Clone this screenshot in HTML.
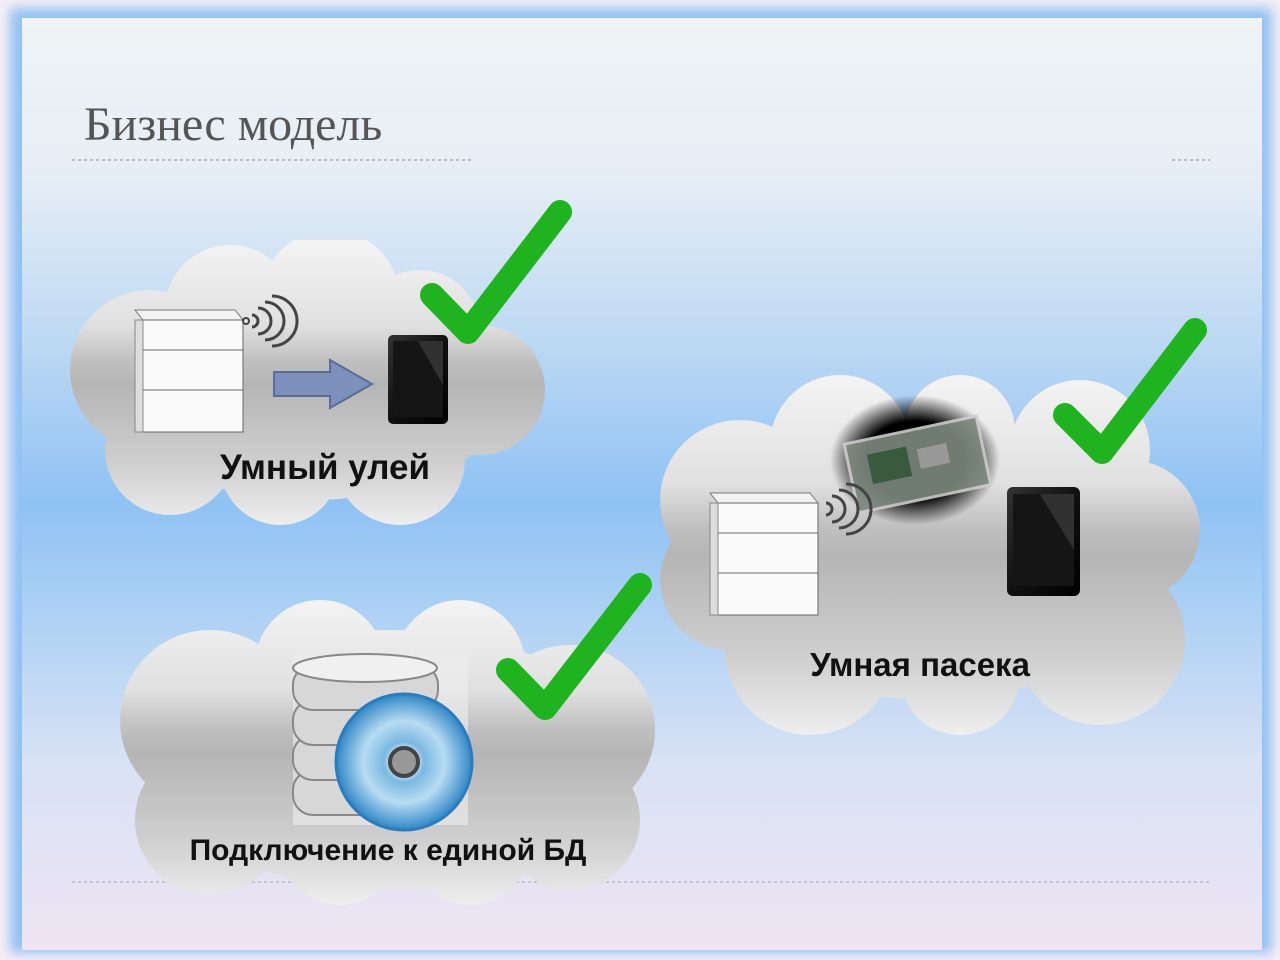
<!DOCTYPE html>
<html><head><meta charset="utf-8"><style>
html,body{margin:0;padding:0;width:1280px;height:960px;overflow:hidden;background:#f7eef6}
</style></head><body>
<svg width="1280" height="960" viewBox="0 0 1280 960" xmlns="http://www.w3.org/2000/svg">
<defs>
<linearGradient id="bg" x1="0" y1="0" x2="0" y2="1">
<stop offset="0" stop-color="#eef3f5"/><stop offset="0.17" stop-color="#e6eef5"/>
<stop offset="0.35" stop-color="#bcd8f3"/><stop offset="0.52" stop-color="#8fc2f4"/>
<stop offset="0.62" stop-color="#a8cff4"/><stop offset="0.8" stop-color="#d8e2f4"/>
<stop offset="1" stop-color="#eee4f3"/></linearGradient>
<linearGradient id="cl" x1="0" y1="0" x2="0" y2="1">
<stop offset="0" stop-color="#f4f4f4"/><stop offset="0.3" stop-color="#e0e0e0"/>
<stop offset="0.42" stop-color="#c0c0c0"/><stop offset="0.5" stop-color="#b5b5b5"/><stop offset="0.78" stop-color="#cfcfcf"/>
<stop offset="1" stop-color="#efefef"/></linearGradient>
<linearGradient id="tab" x1="0" y1="0" x2="1" y2="1">
<stop offset="0" stop-color="#333"/><stop offset="0.5" stop-color="#111"/><stop offset="1" stop-color="#000"/></linearGradient>
<radialGradient id="cd" cx="0.5" cy="0.5" r="0.5">
<stop offset="0.15" stop-color="#eef"/><stop offset="0.3" stop-color="#7ab8e0"/><stop offset="0.6" stop-color="#b8dcf2"/><stop offset="1" stop-color="#2f87c6"/></radialGradient>
<radialGradient id="blk" cx="0.5" cy="0.5" r="0.5"><stop offset="0.6" stop-color="#000"/><stop offset="1" stop-color="#000" stop-opacity="0"/></radialGradient>
<filter id="bl"><feGaussianBlur stdDeviation="6"/></filter>
<clipPath id="c1"><circle cx="150" cy="370" r="80"/><circle cx="230" cy="310" r="65"/><circle cx="330" cy="300" r="70"/><circle cx="420" cy="330" r="60"/><circle cx="480" cy="390" r="65"/><circle cx="400" cy="460" r="65"/><circle cx="280" cy="465" r="60"/><circle cx="170" cy="450" r="65"/><ellipse cx="310" cy="390" rx="200" ry="110"/></clipPath>
<clipPath id="c2"><circle cx="740" cy="500" r="80"/><circle cx="840" cy="445" r="70"/><circle cx="960" cy="430" r="55"/><circle cx="1080" cy="450" r="70"/><circle cx="1130" cy="530" r="70"/><circle cx="1100" cy="640" r="85"/><circle cx="960" cy="675" r="60"/><circle cx="810" cy="650" r="85"/><circle cx="730" cy="580" r="70"/><ellipse cx="930" cy="560" rx="230" ry="140"/></clipPath>
<clipPath id="c3"><circle cx="210" cy="720" r="90"/><circle cx="320" cy="665" r="65"/><circle cx="460" cy="665" r="65"/><circle cx="570" cy="730" r="85"/><circle cx="570" cy="820" r="70"/><circle cx="470" cy="845" r="60"/><circle cx="340" cy="845" r="60"/><circle cx="210" cy="820" r="75"/><ellipse cx="390" cy="760" rx="240" ry="130"/></clipPath>
</defs>
<rect x="10" y="8" width="1262" height="945" fill="#8fc1f3" filter="url(#bl)"/>
<rect x="22" y="18" width="1240" height="932" fill="url(#bg)"/>
<text x="84" y="140" font-family="Liberation Serif, DejaVu Serif, serif" font-size="48" fill="#555">Бизнес модель</text>
<line x1="72" y1="160" x2="472" y2="160" stroke="#aaa" stroke-width="1.5" stroke-dasharray="3 3"/>
<line x1="1172" y1="160" x2="1210" y2="160" stroke="#aaa" stroke-width="1.5" stroke-dasharray="3 3"/>
<line x1="72" y1="882" x2="1210" y2="882" stroke="#bbb" stroke-width="1.5" stroke-dasharray="3 3"/>

<rect x="70" y="240" width="480" height="288" fill="url(#cl)" clip-path="url(#c1)"/>
<rect x="655" y="375" width="550" height="362" fill="url(#cl)" clip-path="url(#c2)"/>
<rect x="120" y="598" width="540" height="310" fill="url(#cl)" clip-path="url(#c3)"/>

<!-- hive 1 -->
<g transform="translate(135,305)">
<polygon points="0,5 100,5 108,15 8,15" fill="#f3f3f3" stroke="#777"/>
<rect x="8" y="15" width="100" height="30" fill="#fafafa" stroke="#666"/>
<rect x="8" y="45" width="100" height="40" fill="#fafafa" stroke="#666"/>
<rect x="8" y="85" width="100" height="42" fill="#fafafa" stroke="#666"/>
<rect x="0" y="15" width="8" height="112" fill="#ddd" stroke="#888"/>
</g>
<g fill="none" stroke="#444" stroke-width="3"><path d="M252 315 a6 6 0 0 1 0 12"/><path d="M258 308 a12 12 0 0 1 0 26"/><path d="M265 302 a18 18 0 0 1 0 38"/><path d="M272 296 a24 24 0 0 1 0 50"/></g>
<circle cx="246" cy="321" r="3" fill="none" stroke="#444" stroke-width="2"/>
<polygon points="274,372 330,372 330,360 372,384 330,408 330,396 274,396" fill="#7d8fbb" stroke="#5a6c99" stroke-width="2"/>
<rect x="388" y="335" width="60" height="89" rx="5" fill="url(#tab)"/>
<rect x="393" y="341" width="50" height="76" fill="#151515"/>
<polygon points="418,341 443,341 443,385" fill="#444" opacity="0.6"/>
<text x="325" y="479" text-anchor="middle" font-family="Liberation Sans, sans-serif" font-weight="bold" font-size="35" fill="#111">Умный улей</text>
<polyline points="432,295 468,332 560,212" fill="none" stroke="#1fb41f" stroke-width="24" stroke-linejoin="round" stroke-linecap="round"/>

<!-- cloud 2 -->
<ellipse cx="915" cy="460" rx="85" ry="65" fill="url(#blk)"/>
<g transform="rotate(-12 915 465)"><rect x="850" y="430" width="135" height="70" fill="#7d8a7e" stroke="#ccc" stroke-width="3" opacity="0.9"/><rect x="870" y="445" width="40" height="30" fill="#3a5a40"/><rect x="920" y="450" width="30" height="20" fill="#999"/></g>
<g transform="translate(710,488)">
<polygon points="0,5 100,5 108,15 8,15" fill="#f3f3f3" stroke="#777"/>
<rect x="8" y="15" width="100" height="30" fill="#fafafa" stroke="#666"/>
<rect x="8" y="45" width="100" height="40" fill="#fafafa" stroke="#666"/>
<rect x="8" y="85" width="100" height="42" fill="#fafafa" stroke="#666"/>
<rect x="0" y="15" width="8" height="112" fill="#ddd" stroke="#888"/>
</g>
<g fill="none" stroke="#444" stroke-width="3"><path d="M826 503 a6 6 0 0 1 0 12"/><path d="M832 496 a12 12 0 0 1 0 26"/><path d="M839 490 a18 18 0 0 1 0 38"/><path d="M846 484 a24 24 0 0 1 0 50"/></g>
<rect x="1007" y="487" width="73" height="109" rx="6" fill="url(#tab)"/>
<rect x="1013" y="494" width="61" height="92" fill="#151515"/>
<polygon points="1040,494 1074,494 1074,550" fill="#444" opacity="0.6"/>
<text x="920" y="676" text-anchor="middle" font-family="Liberation Sans, sans-serif" font-weight="bold" font-size="33" fill="#111">Умная пасека</text>
<polyline points="1065,415 1102,452 1195,330" fill="none" stroke="#1fb41f" stroke-width="24" stroke-linejoin="round" stroke-linecap="round"/>

<!-- cloud 3 -->
<rect x="293" y="655" width="175" height="170" fill="#eee" opacity="0.6"/>
<g fill="#d7d7d7" stroke="#888" stroke-width="2">
<rect x="293" y="770" width="145" height="45" rx="20"/><rect x="293" y="735" width="145" height="45" rx="20"/>
<rect x="293" y="700" width="145" height="45" rx="20"/><rect x="293" y="665" width="145" height="45" rx="20"/>
<ellipse cx="365" cy="668" rx="72" ry="14" fill="#f0f0f0"/></g>
<circle cx="404" cy="762" r="68" fill="url(#cd)" stroke="#2a7cbf" stroke-width="3"/>
<circle cx="404" cy="762" r="14" fill="#999" stroke="#444" stroke-width="4"/>
<text x="388" y="860" text-anchor="middle" font-family="Liberation Sans, sans-serif" font-weight="bold" font-size="30" fill="#111">Подключение к единой  БД</text>
<polyline points="508,670 545,708 640,585" fill="none" stroke="#1fb41f" stroke-width="24" stroke-linejoin="round" stroke-linecap="round"/>
</svg>
</body></html>
